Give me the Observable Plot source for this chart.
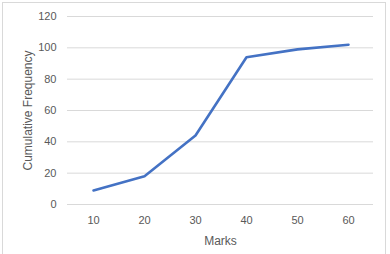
<!DOCTYPE html>
<html>
<head>
<meta charset="utf-8">
<script src="https://cdn.jsdelivr.net/npm/d3@7"></script>
<script src="https://cdn.jsdelivr.net/npm/@observablehq/plot@0.6"></script>
<style>
  html, body { margin: 0; padding: 0; background: #fff; }
  #wrap { position: relative; width: 390px; height: 254px; overflow: hidden; }
  #border { position: absolute; left: 2px; top: 2px; width: 384px; height: 260px; border: 1px solid #d9d9d9; box-sizing: border-box; pointer-events: none; }
  #wrap svg { position: absolute; left: 0; top: 0; }
</style>
</head>
<body>
<div id="wrap"><div id="border"></div></div>
<script>
const marks = ["10", "20", "30", "40", "50", "60"];
const cumulativeFrequency = [9, 18, 44, 94, 99, 102];
const yTicks = [0, 20, 40, 60, 80, 100, 120];
const xTitle = "Marks";
const yTitle = "Cumulative Frequency";

const data = marks.map((m, i) => ({ mark: m, cf: cumulativeFrequency[i] }));

const chart = Plot.plot({
  width: 390,
  height: 254,
  marginLeft: 67,
  marginRight: 17,
  marginTop: 16,
  marginBottom: 50,
  style: { fontFamily: "'Liberation Sans', Arial, sans-serif", fontSize: "11px", color: "#595959", background: "transparent" },
  x: { type: "point", domain: marks, padding: 0.5 },
  y: { domain: [0, 120] },
  marks: [
    Plot.ruleY(yTicks, { stroke: "#d9d9d9", strokeWidth: 1 }),
    Plot.axisY({ ticks: yTicks, tickSize: 0, tickPadding: 11, label: null, fill: "#595959" }),
    Plot.axisX({ tickSize: 0, tickPadding: 12, label: null, fill: "#595959" }),
    Plot.text([yTitle], { frameAnchor: "left", textAnchor: "middle", dx: -39, rotate: -90, fontSize: 12, fill: "#595959", lineAnchor: "middle" }),
    Plot.text([xTitle], { frameAnchor: "bottom", textAnchor: "middle", dy: 36.5, fontSize: 12, fill: "#595959", lineAnchor: "middle" }),
    Plot.line(data, { x: "mark", y: "cf", stroke: "#4472C4", strokeWidth: 2.6, strokeLinecap: "round", strokeLinejoin: "round" })
  ]
});
document.getElementById("wrap").appendChild(chart);
</script>
</body>
</html>
